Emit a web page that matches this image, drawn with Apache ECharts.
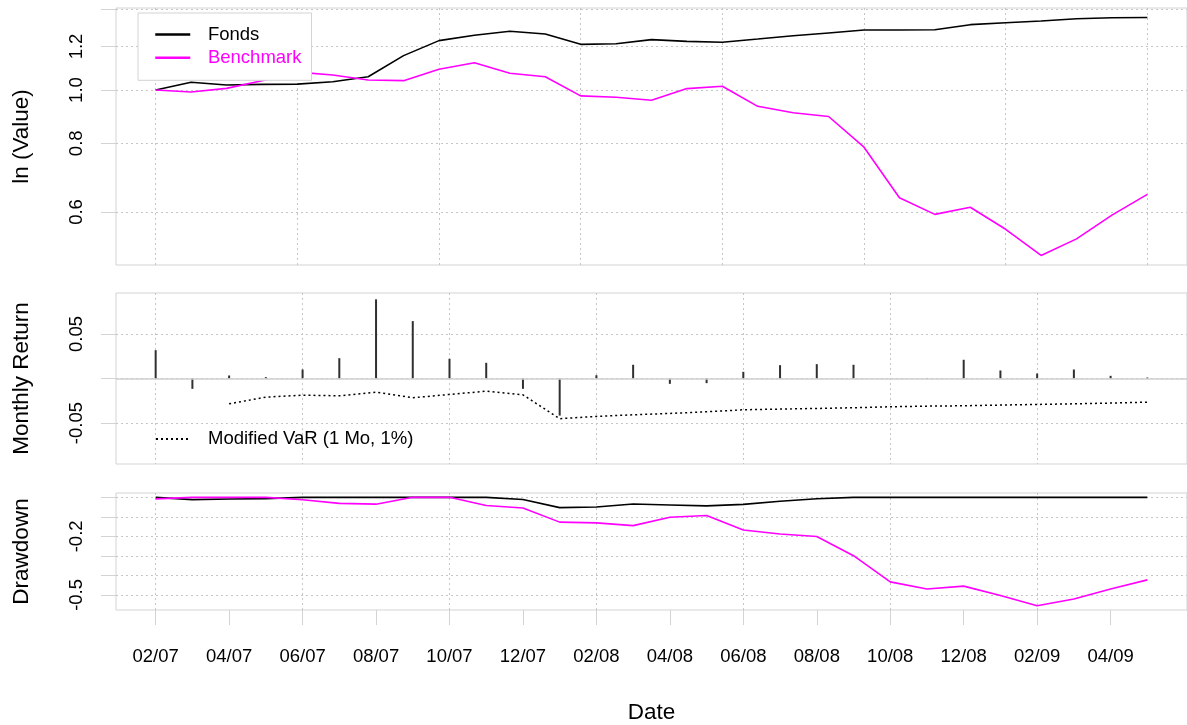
<!DOCTYPE html>
<html>
<head>
<meta charset="utf-8">
<title>Fonds vs Benchmark</title>
<script src="https://cdn.jsdelivr.net/npm/echarts@6/dist/echarts.min.js"></script>
<style>
  html, body { margin: 0; padding: 0; background: #ffffff; }
  #chart { width: 1187px; height: 725px; }
</style>
</head>
<body>
<div id="chart"></div>
<script>
// Month-end dates of the return series
const months = ['02/07','03/07','04/07','05/07','06/07','07/07','08/07','09/07','10/07','11/07','12/07',
                '01/08','02/08','03/08','04/08','05/08','06/08','07/08','08/08','09/08','10/08','11/08','12/08',
                '01/09','02/09','03/09','04/09','05/09'];
const dateTickLabels = ['02/07','04/07','06/07','08/07','10/07','12/07','02/08','04/08','06/08','08/08','10/08','12/08','02/09','04/09'];

// Growth of 1 (start value plus one point per month)
const fondsValue = [1.000, 1.033, 1.021, 1.024, 1.025, 1.035, 1.057, 1.155, 1.230, 1.258, 1.279, 1.265, 1.211, 1.214,
                    1.235, 1.226, 1.222, 1.238, 1.255, 1.270, 1.286, 1.286, 1.287, 1.315, 1.326, 1.335, 1.348, 1.354, 1.355];
const benchValue = [1.000, 0.992, 1.007, 1.040, 1.078, 1.065, 1.043, 1.040, 1.091, 1.121, 1.073, 1.057, 0.976, 0.970,
                    0.958, 1.006, 1.016, 0.934, 0.909, 0.895, 0.787, 0.637, 0.594, 0.612, 0.558, 0.500, 0.536, 0.592, 0.646];
const valueTicks = [0.6, 0.8, 1.0, 1.2, 1.4];
const valueTickLabels = [0.6, 0.8, 1.0, 1.2];

// Monthly returns of the fund and its rolling modified VaR
const fondsReturn = [0.0318, -0.0116, 0.0034, 0.0015, 0.0101, 0.0228, 0.0888, 0.0644, 0.0221, 0.0176, -0.0116, -0.0416,
                     0.0037, 0.0154, -0.0060, -0.0052, 0.0075, 0.0150, 0.0161, 0.0154, 0.0000, -0.0004, 0.0210, 0.0090,
                     0.0056, 0.0101, 0.0030, 0.0011];
const fondsVaR = [null, null, -0.0284, -0.0209, -0.0187, -0.0194, -0.0153, -0.0216, -0.0179, -0.0142, -0.0183, -0.0451,
                  -0.0425, -0.0407, -0.0392, -0.0373, -0.0351, -0.0343, -0.0336, -0.0328, -0.0317, -0.0310, -0.0306,
                  -0.0298, -0.0291, -0.0284, -0.0276, -0.0265];
const returnTicks = [-0.05, 0, 0.05];
const returnTickLabels = [-0.05, 0.05];

// Drawdowns from the running peak
const fondsDrawdown = [0, -0.0116, -0.0085, -0.0068, 0, 0, 0, 0, 0, 0, -0.0110, -0.0528, -0.0495, -0.0345, -0.0395,
                       -0.0440, -0.0360, -0.0204, -0.0072, 0, 0, 0, 0, 0, 0, 0, 0, 0];
const benchDrawdown = [-0.008, 0, 0, 0, -0.012, -0.031, -0.035, 0, 0, -0.042, -0.055, -0.127, -0.131, -0.145, -0.102,
                       -0.093, -0.167, -0.188, -0.201, -0.299, -0.433, -0.470, -0.455, -0.503, -0.555, -0.521, -0.470, -0.423];
const drawdownTicks = [0, -0.1, -0.2, -0.3, -0.4, -0.5];
const drawdownTickLabels = [-0.2, -0.5];

// ---- styling helpers ----
const FONT = "'Liberation Sans', Arial, Helvetica, sans-serif";
const GRID_COLOR = '#c6c6c6';
const BOX_COLOR = '#d3d3d3';
const MAGENTA = '#ff00ff';

// pad a range by 4% on each side
const pad = (lo, hi) => { const d = (hi - lo) * 0.04; return [lo - d, hi + d]; };
const stepIdx = (n, step) => { const r = []; for (let i = 0; i < n; i += step) r.push(i); return r; };

const nTop = fondsValue.length;
const nRet = fondsReturn.length;
const xTop = pad(0, nTop - 1);
const xRet = pad(0, nRet - 1);
const logAll = fondsValue.concat(benchValue).map(Math.log);
const yTop = pad(Math.min(...logAll), Math.max(...logAll));
const retAbs = Math.max(...fondsReturn.map(Math.abs), ...fondsVaR.filter(v => v !== null).map(Math.abs));
const yRet = pad(-retAbs, retAbs);
const ddAll = fondsDrawdown.concat(benchDrawdown);
const yDD = pad(Math.min(...ddAll), Math.max(...ddAll));

const dateTickIdx = months.map((m, i) => dateTickLabels.includes(m) ? i : -1).filter(i => i >= 0);

const gridCommon = { left: 116, width: 1075, show: true, borderColor: BOX_COLOR, borderWidth: 1, backgroundColor: 'transparent' };

function yAxisCfg(gridIndex, range, ticks, labels, name, fmt) {
  return {
    type: 'value', gridIndex, min: range[0], max: range[1],
    name, nameLocation: 'middle', nameGap: 83, nameRotate: 90,
    nameTextStyle: { fontFamily: FONT, fontSize: 22.5, color: '#000' },
    axisLine: { show: false, onZero: false },
    axisTick: { show: true, inside: false, length: 15, customValues: ticks, lineStyle: { color: BOX_COLOR, width: 1 } },
    axisLabel: { show: true, rotate: 90, margin: 30, customValues: labels, formatter: fmt,
                 fontFamily: FONT, fontSize: 18.5, color: '#000' },
    splitLine: { show: true, lineStyle: { color: GRID_COLOR, type: [2, 3], width: 1 } }
  };
}

// hidden x axis that only carries the vertical grid lines
function xGridAxis(gridIndex, range, gridIdx, position) {
  return {
    type: 'value', gridIndex, min: range[0], max: range[1], position,
    axisLine: { show: false, onZero: false },
    axisTick: { show: false, customValues: gridIdx },
    axisLabel: { show: false },
    splitLine: { show: true, lineStyle: { color: GRID_COLOR, type: [2, 3], width: 1 } }
  };
}

const option = {
  animation: false,
  backgroundColor: '#ffffff',
  grid: [
    Object.assign({ top: 8, height: 257 }, gridCommon),
    Object.assign({ top: 293, height: 171 }, gridCommon),
    Object.assign({ top: 493, height: 117 }, gridCommon)
  ],
  xAxis: [
    xGridAxis(0, xTop, stepIdx(nTop, 4), 'bottom'),
    xGridAxis(1, xRet, stepIdx(nRet, 4), 'bottom'),
    {
      type: 'value', gridIndex: 2, min: xRet[0], max: xRet[1], position: 'bottom',
      name: 'Date', nameLocation: 'middle', nameGap: 91,
      nameTextStyle: { fontFamily: FONT, fontSize: 22.5, color: '#000' },
      axisLine: { show: false, onZero: false },
      axisTick: { show: true, inside: false, length: 15, customValues: dateTickIdx, lineStyle: { color: BOX_COLOR, width: 1 } },
      axisLabel: { show: true, customValues: dateTickIdx, margin: 37.5,
                   formatter: v => months[Math.round(v)], fontFamily: FONT, fontSize: 18.5, color: '#000' },
      splitLine: { show: false }
    },
    xGridAxis(2, xRet, stepIdx(nRet, 4), 'top')
  ],
  yAxis: [
    yAxisCfg(0, yTop, valueTicks.map(Math.log), valueTickLabels.map(Math.log), 'ln (Value)', v => Math.exp(v).toFixed(1)),
    yAxisCfg(1, yRet, returnTicks, returnTickLabels, 'Monthly Return', v => v.toFixed(2)),
    yAxisCfg(2, yDD, drawdownTicks, drawdownTickLabels, 'Drawdown', v => v.toFixed(1))
  ],
  legend: [
    {
      data: [{ name: 'Fonds' }, { name: 'Benchmark', textStyle: { color: MAGENTA } }],
      orient: 'vertical', left: 138, top: 13,
      padding: [12, 10, 13, 16], itemGap: 4.3,
      itemWidth: 35, itemHeight: 14,
      lineStyle: { width: 2.5 },
      itemStyle: { opacity: 0 },
      backgroundColor: '#ffffff', borderColor: BOX_COLOR, borderWidth: 1,
      textStyle: { fontFamily: FONT, fontSize: 18.5, lineHeight: 19, color: '#000', padding: [0, 0, 0, 12.7] },
      selectedMode: false
    },
    {
      data: ['Modified VaR (1 Mo, 1%)'],
      orient: 'vertical', left: 155, top: 429.5, padding: 0,
      itemWidth: 33, itemHeight: 14,
      itemStyle: { opacity: 0 },
      textStyle: { fontFamily: FONT, fontSize: 18.5, lineHeight: 19, color: '#000', padding: [0, 0, 0, 14] },
      selectedMode: false
    }
  ],
  series: [
    {
      name: 'Fonds', type: 'line', xAxisIndex: 0, yAxisIndex: 0, symbol: 'none',
      data: fondsValue.map((v, i) => [i, Math.log(v)]),
      lineStyle: { color: '#000000', width: 1.6 }, itemStyle: { color: '#000000' }, z: 3
    },
    {
      name: 'Benchmark', type: 'line', xAxisIndex: 0, yAxisIndex: 0, symbol: 'none',
      data: benchValue.map((v, i) => [i, Math.log(v)]),
      lineStyle: { color: MAGENTA, width: 1.6 }, itemStyle: { color: MAGENTA }, z: 3
    },
    {
      name: 'Monthly Return', type: 'bar', xAxisIndex: 1, yAxisIndex: 1, barWidth: 2,
      data: fondsReturn.map((v, i) => [i, v]),
      itemStyle: { color: '#303030' },
      markLine: {
        silent: true, symbol: 'none', label: { show: false },
        lineStyle: { color: '#cfcfcf', type: 'solid', width: 1.5 },
        data: [{ yAxis: 0 }]
      }
    },
    {
      name: 'Modified VaR (1 Mo, 1%)', type: 'line', xAxisIndex: 1, yAxisIndex: 1, symbol: 'none',
      data: fondsVaR.map((v, i) => [i, v]).filter(d => d[1] !== null),
      lineStyle: { color: '#000000', width: 1.5, type: [2, 3] }, itemStyle: { color: '#000000' }
    },
    {
      name: 'Fonds DD', type: 'line', xAxisIndex: 2, yAxisIndex: 2, symbol: 'none',
      data: fondsDrawdown.map((v, i) => [i, v]),
      lineStyle: { color: '#000000', width: 1.6 }, itemStyle: { color: '#000000' }, z: 3
    },
    {
      name: 'Benchmark DD', type: 'line', xAxisIndex: 2, yAxisIndex: 2, symbol: 'none',
      data: benchDrawdown.map((v, i) => [i, v]),
      lineStyle: { color: MAGENTA, width: 1.6 }, itemStyle: { color: MAGENTA }, z: 3
    }
  ]
};

const chart = echarts.init(document.getElementById('chart'), null, { renderer: 'canvas' });
chart.setOption(option);
</script>
</body>
</html>
